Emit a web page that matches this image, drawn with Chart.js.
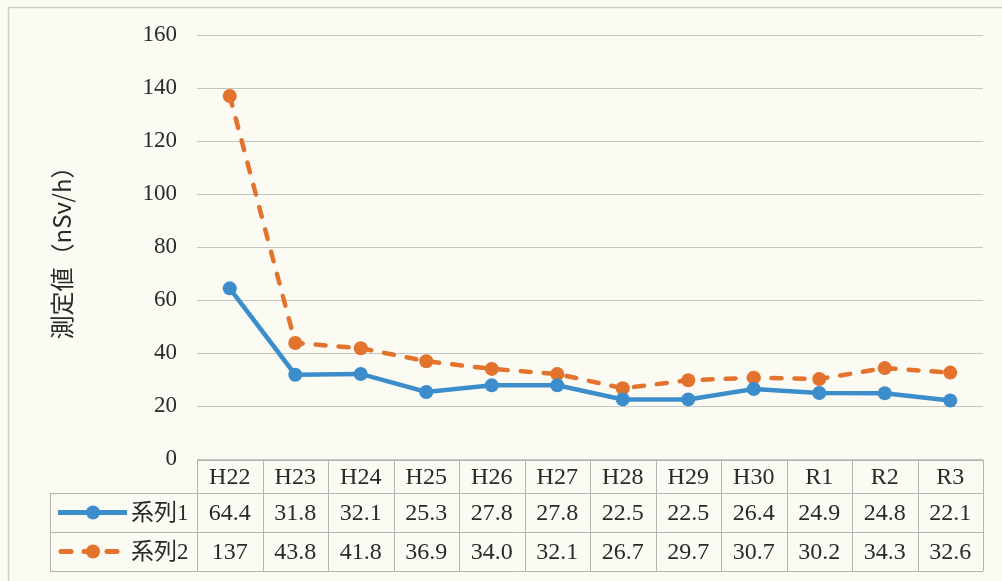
<!DOCTYPE html>
<html lang="ja">
<head>
<meta charset="utf-8">
<script src="https://cdn.jsdelivr.net/npm/chart.js@4/dist/chart.umd.min.js"></script>
<style>
  html, body { margin: 0; padding: 0; background: #fbfaf3; }
  #wrap { width: 1002px; height: 581px; position: relative; }
</style>
</head>
<body>
<div id="wrap"><canvas id="chart" width="1002" height="581"></canvas></div>
<script>
// data
const years = ['H22', 'H23', 'H24', 'H25', 'H26', 'H27', 'H28', 'H29', 'H30', 'R1', 'R2', 'R3'];
const series1 = [64.4, 31.8, 32.1, 25.3, 27.8, 27.8, 22.5, 22.5, 26.4, 24.9, 24.8, 22.1];
const series2 = [137, 43.8, 41.8, 36.9, 34.0, 32.1, 26.7, 29.7, 30.7, 30.2, 34.3, 32.6];
const seriesNames = ['系列1', '系列2'];
const yTicks = [0, 20, 40, 60, 80, 100, 120, 140, 160];
const yTitle = '測定値（nSv/h）';

const BLUE = '#3b8dcb';
const ORANGE = '#e3722d';
const TEXT = '#2a2a2a';
const GRID = '#c4c4c0';
const serif = '"Liberation Serif", "Noto Sans CJK JP", serif';

function fmt(v) {
    return v >= 100 ? String(v) : v.toFixed(1);
}

// background, frame and the data table underneath the plot
const tablePlugin = {
    id: 'dataTable',
    beforeDraw(chart) {
        const ctx = chart.ctx;
        ctx.save();
        ctx.fillStyle = '#fbfaf3';
        ctx.fillRect(0, 0, chart.width, chart.height);
        ctx.strokeStyle = '#cfcfca';
        ctx.lineWidth = 1.5;
        ctx.beginPath();
        ctx.moveTo(8.5, chart.height);
        ctx.lineTo(8.5, 7.5);
        ctx.lineTo(chart.width, 7.5);
        ctx.stroke();
        ctx.restore();
    },
    afterDraw(chart) {
        const ctx = chart.ctx;
        const x = chart.scales.x;
        const area = chart.chartArea;
        const colW = (area.right - area.left) / years.length;
        const rows = [area.bottom + 1, area.bottom + 34, area.bottom + 73, area.bottom + 112];
        const legendLeft = 50;

        ctx.save();
        ctx.strokeStyle = '#b4b4b0';
        ctx.lineWidth = 1;
        // horizontal lines
        ctx.beginPath();
        ctx.moveTo(area.left, rows[0] + 0.5);
        ctx.lineTo(area.right, rows[0] + 0.5);
        for (let r = 1; r < rows.length; r++) {
            ctx.moveTo(legendLeft, rows[r] + 0.5);
            ctx.lineTo(area.right, rows[r] + 0.5);
        }
        // vertical lines
        for (let i = 0; i <= years.length; i++) {
            const cx = Math.round(area.left + i * colW) + 0.5;
            ctx.moveTo(cx, rows[0]);
            ctx.lineTo(cx, rows[3]);
        }
        ctx.moveTo(legendLeft + 0.5, rows[1]);
        ctx.lineTo(legendLeft + 0.5, rows[3]);
        ctx.stroke();

        ctx.fillStyle = TEXT;
        ctx.font = '24px ' + serif;
        ctx.textAlign = 'center';
        ctx.textBaseline = 'middle';
        years.forEach((y, i) => {
            const cx = x.getPixelForValue(i);
            ctx.fillText(y, cx, (rows[0] + rows[1]) / 2 + 1);
            ctx.fillText(fmt(series1[i]), cx, (rows[1] + rows[2]) / 2 + 1);
            ctx.fillText(fmt(series2[i]), cx, (rows[2] + rows[3]) / 2 + 1);
        });

        // legend samples in the first column
        const datasets = chart.data.datasets;
        datasets.forEach((ds, d) => {
            const cy = (rows[d + 1] + rows[d + 2]) / 2;
            ctx.strokeStyle = ds.borderColor;
            ctx.lineWidth = 5;
            ctx.lineCap = d === 0 ? 'butt' : 'round';
            ctx.setLineDash(d === 0 ? [] : [10, 13]);
            ctx.beginPath();
            if (d === 0) {
                ctx.moveTo(58, cy);
                ctx.lineTo(127, cy);
            } else {
                ctx.moveTo(61, cy);
                ctx.lineTo(126, cy);
            }
            ctx.stroke();
            ctx.setLineDash([]);
            ctx.fillStyle = ds.borderColor;
            ctx.beginPath();
            ctx.arc(93, cy, 7, 0, Math.PI * 2);
            ctx.fill();
            ctx.fillStyle = TEXT;
            ctx.textAlign = 'left';
            ctx.font = '23px ' + serif;
            ctx.fillText(seriesNames[d], 131, cy + 1);
        });
        ctx.restore();
    }
};

new Chart(document.getElementById('chart'), {
    type: 'line',
    data: {
        labels: years,
        datasets: [
            {
                label: seriesNames[0],
                data: series1,
                borderColor: BLUE,
                backgroundColor: BLUE,
                borderWidth: 4.5,
                pointRadius: 7,
                pointBorderWidth: 0,
                tension: 0
            },
            {
                label: seriesNames[1],
                data: series2,
                borderColor: ORANGE,
                backgroundColor: ORANGE,
                borderWidth: 4.5,
                borderDash: [10, 13],
                borderCapStyle: 'round',
                pointRadius: 7,
                pointBorderWidth: 0,
                tension: 0
            }
        ]
    },
    options: {
        responsive: false,
        animation: false,
        layout: { padding: { top: 35, right: 19, bottom: 122, left: 0 } },
        plugins: {
            legend: { display: false },
            tooltip: { enabled: false }
        },
        scales: {
            x: {
                display: false,
                offset: true
            },
            y: {
                min: 0,
                max: 160,
                afterBuildTicks(scale) {
                    scale.ticks = yTicks.map(v => ({ value: v }));
                },
                afterFit(scale) {
                    scale.width = 197;
                },
                border: { display: false },
                grid: { color: GRID, lineWidth: 1, drawTicks: false },
                ticks: {
                    padding: 20,
                    color: TEXT,
                    font: { family: serif, size: 23 }
                },
                title: {
                    display: true,
                    text: yTitle,
                    color: TEXT,
                    padding: { top: 47, bottom: 0 },
                    font: { family: '"Noto Sans CJK JP", sans-serif', size: 24 }
                }
            }
        }
    },
    plugins: [tablePlugin]
});
</script>
</body>
</html>
